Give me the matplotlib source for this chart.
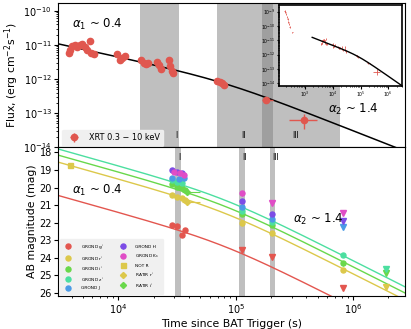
import numpy as np
import matplotlib
matplotlib.use('Agg')
import matplotlib.pyplot as plt

# ---------------- X-ray data (XRT 0.3-10 keV) ----------------
xrt_t = [3780, 3900, 4040, 4250, 4450, 4660, 4910, 5170, 5420, 5700, 5780, 6160,
         9750, 10400, 10750, 11470,
         15700, 16400, 17200, 17900,
         21300, 22000, 23200,
         27200, 27700, 28600, 29000,
         69200, 72800, 76300, 79800,
         180700, 385000]
xrt_f = [5.9e-12, 6.9e-12, 9.3e-12, 1.0e-11, 8.7e-12, 1.0e-11, 1.05e-11, 8.7e-12, 6.9e-12, 1.32e-11, 5.9e-12, 5.5e-12,
         5.5e-12, 3.5e-12, 4.2e-12, 4.7e-12,
         3.5e-12, 2.95e-12, 2.8e-12, 2.95e-12,
         3.2e-12, 2.6e-12, 2.0e-12,
         3.5e-12, 2.35e-12, 1.75e-12, 1.5e-12,
         8.7e-13, 8.1e-13, 7.8e-13, 6.6e-13,
         2.46e-13, 6.3e-14]
xrt_t_lo = [150] * 31 + [13700, 99000]
xrt_t_hi = [150] * 31 + [29300, 106000]
xrt_f_rel = [0.15] * 31 + [0.15, 0.45]

# early (steep decay) points shown only in the inset
early_t = [185, 195, 205, 220, 235, 250, 265, 280, 350]
early_f = [1.2e-9, 9.0e-10, 6.5e-10, 4.5e-10, 3.0e-10, 2.0e-10, 1.4e-10, 9.0e-11, 3.5e-11]

# smoothly broken power-law model parameters
xr_norm = 10 ** -12.03
t_break = 10 ** 4.9
alpha1 = 0.75
alpha2 = 1.35
smooth = 3.0
model_tmin, model_tmax = 1800, 3.0e6

# optical model normalisations (mag at break)
opt_m0 = {'g': 23.1, 'r': 21.2, 'i': 20.8, 'z': 20.45}

# ---------------- Optical/NIR data ----------------
g_t = [28650, 31600, 34850, 37150]
g_m = [22.14, 22.18, 22.71, 22.43]
g_ul_t = [114300, 205600, 826000]
g_ul_m = [23.57, 23.95, 25.75]

r_t = [28650, 31600, 34850, 37150, 114300, 205600, 826000]
r_m = [20.43, 20.53, 20.62, 20.72, 22.05, 22.62, 24.70]
r_ul_t = [1.9e6]
r_ul_m = [25.66]

i_t = [28650, 31600, 34850, 37150, 114300, 205600, 826000]
i_m = [19.77, 19.96, 20.05, 20.15, 21.52, 22.14, 24.33]
i_ul_t = [1.9e6]
i_ul_m = [24.86]

z_t = [28650, 31600, 34850, 114300, 205600, 826000]
z_m = [19.58, 19.67, 19.73, 21.33, 21.98, 23.85]
z_ul_t = [1.9e6]
z_ul_m = [24.67]

J_t = [28650, 33000, 36000, 114300, 205600]
J_m = [19.48, 19.54, 19.48, 21.13, 21.82]
J_ul_t = [826000]
J_ul_m = [22.27]

H_t = [28650, 31600, 34850, 114300, 205600]
H_m = [19.00, 19.10, 19.16, 20.76, 21.52]
H_ul_t = [826000]
H_ul_m = [21.90]

K_t = [29500, 33600, 36000, 114300]
K_m = [19.10, 19.16, 19.29, 20.34]
K_ul_t = [205600, 826000]
K_ul_m = [20.90, 21.48]

not_t = [3900]
not_m = [18.72]

ratir_r_t = [38500]
ratir_r_m = [20.81]
ratir_i_t = [38500]
ratir_i_m = [20.24]
ratir_t_lo = [3500]
ratir_t_hi = [11500]

# shaded epochs
xr_bands = [(15400, 33000), (69200, 209000), (168000, 777000)]
opt_bands = [(30300, 34000), (107000, 121000), (197000, 217000)]

col = {'g': '#e3564f', 'r': '#dcc84a', 'i': '#69d84b', 'z': '#4cdfa0',
       'J': '#4b9be6', 'H': '#7c4ce6', 'K': '#e04dc6'}
xr_col = '#e0574f'


def sbpl(t):
    x = np.asarray(t) / t_break
    return (x ** (alpha1 * smooth) + x ** (alpha2 * smooth)) ** (-1.0 / smooth)


plt.rcParams['font.family'] = 'DejaVu Sans'
plt.rcParams['xtick.major.size'] = 2.6
plt.rcParams['ytick.major.size'] = 2.6
plt.rcParams['xtick.minor.size'] = 1.5
plt.rcParams['ytick.minor.size'] = 1.5
plt.rcParams['xtick.major.pad'] = 1.8
plt.rcParams['ytick.major.pad'] = 1.8
plt.rcParams['xtick.minor.pad'] = 1.8
plt.rcParams['ytick.minor.pad'] = 1.8

fig = plt.figure(figsize=(4.11, 3.29), dpi=100)
gs = fig.add_gridspec(2, 1, left=0.141, right=0.985, top=0.99, bottom=0.1,
                      hspace=0, height_ratios=[144, 149])
ax1 = fig.add_subplot(gs[0])
ax2 = fig.add_subplot(gs[1], sharex=ax1)

tgrid = np.logspace(np.log10(model_tmin), np.log10(model_tmax), 400)

# ---------- top panel ----------
for a, b in xr_bands:
    ax1.axvspan(a, b, color='gray', alpha=0.5, lw=0, zorder=0)
ax1.plot(tgrid, xr_norm * sbpl(tgrid), color='black', lw=1.1, zorder=2)
xf = np.array(xrt_f)
ax1.errorbar(xrt_t, xrt_f, xerr=[xrt_t_lo, xrt_t_hi],
             yerr=xf * np.array(xrt_f_rel), fmt='o', color=xr_col, ms=4.5,
             elinewidth=1, capsize=0, zorder=3, label='XRT 0.3 − 10 keV')
ax1.set_xscale('log')
ax1.set_yscale('log')
ax1.set_xlim(3050, 2.77e6)
ax1.set_ylim(1e-14, 1.65e-10)
ax1.set_ylabel('Flux, (erg cm$^{-2}$s$^{-1}$)', fontsize=7.8, labelpad=2)
ax1.tick_params(labelsize=7, labelbottom=False)
ax1.text(4050, 4.0e-11, r'$\alpha_1$ ~ 0.4', fontsize=8.5, va='center')
ax1.text(612000, 1.26e-13, r'$\alpha_2$ ~ 1.4', fontsize=8.5, va='center')
for x, s in [(31200, 'I'), (116000, 'II'), (327000, 'III')]:
    ax1.text(x, 2.2e-14, s, fontsize=5.5, ha='center', va='center')
leg = ax1.legend(loc='lower left', fontsize=5.9, frameon=True, borderpad=0.45,
                 handletextpad=0.8, bbox_to_anchor=(0.0, -0.02))
leg.get_frame().set_facecolor('#f0f0f0')
leg.get_frame().set_edgecolor('#f0f0f0')
leg.get_frame().set_alpha(0.95)

# inset
axin = fig.add_axes([0.68, 0.739, 0.299, 0.245])
axin.errorbar(early_t, early_f, yerr=np.array(early_f) * 0.15, xerr=np.array(early_t) * 0.03,
              fmt='none', color=xr_col, elinewidth=0.6)
axin.errorbar(xrt_t, xrt_f, xerr=[xrt_t_lo, xrt_t_hi], yerr=xf * np.array(xrt_f_rel),
              fmt='none', color=xr_col, elinewidth=0.6)
axin.plot(tgrid, xr_norm * sbpl(tgrid), color='black', lw=1.0)
axin.set_xscale('log')
axin.set_yscale('log')
axin.set_xlim(119, 3.2e6)
axin.set_ylim(6.5e-15, 2.8e-9)
axin.tick_params(labelsize=3.3, length=1.8, pad=1)
axin.tick_params(which='minor', length=1)
for s in axin.spines.values():
    s.set_linewidth(1.2)

# ---------- bottom panel ----------
for a, b in opt_bands:
    ax2.axvspan(a, b, color='gray', alpha=0.5, lw=0, zorder=0)
for band in ['g', 'r', 'i', 'z']:
    ax2.plot(tgrid, opt_m0[band] - 2.5 * np.log10(sbpl(tgrid)), color=col[band], lw=1.0, zorder=1)

ms = 3.6
series = [('g', g_t, g_m, g_ul_t, g_ul_m, "GROND g$'$"),
          ('r', r_t, r_m, r_ul_t, r_ul_m, "GROND r$'$"),
          ('i', i_t, i_m, i_ul_t, i_ul_m, "GROND i$'$"),
          ('z', z_t, z_m, z_ul_t, z_ul_m, "GROND z$'$"),
          ('J', J_t, J_m, J_ul_t, J_ul_m, 'GROND J'),
          ('H', H_t, H_m, H_ul_t, H_ul_m, 'GROND H'),
          ('K', K_t, K_m, K_ul_t, K_ul_m, 'GROND K$_s$')]
handles = []
for band, t, m, ut, um, lab in series:
    h = ax2.errorbar(t, m, yerr=0.12, xerr=np.array(t) * 0.02, fmt='o', color=col[band],
                     ms=ms, elinewidth=0.8, capsize=0, zorder=3, label=lab)
    ax2.plot(ut, um, 'v', color=col[band], ms=ms + 0.5, zorder=3)
    handles.append(h)
h = ax2.errorbar(not_t, not_m, yerr=0.08, fmt='s', color=col['r'], ms=ms, elinewidth=0.8,
                 capsize=0, zorder=3, label='NOT R')
handles.append(h)
h = ax2.errorbar(ratir_r_t, ratir_r_m, xerr=[ratir_t_lo, ratir_t_hi], yerr=0.15, fmt='D',
                 color=col['r'], ms=ms - 0.5, elinewidth=0.8, capsize=0, zorder=3, label="RATIR r$'$")
handles.append(h)
h = ax2.errorbar(ratir_i_t, ratir_i_m, xerr=[ratir_t_lo, ratir_t_hi], yerr=0.15, fmt='D',
                 color=col['i'], ms=ms - 0.5, elinewidth=0.8, capsize=0, zorder=3, label="RATIR i$'$")
handles.append(h)

ax2.set_ylim(26.19, 17.7)
ax2.set_yticks(range(18, 27))
ax2.set_ylabel('AB magnitude (mag)', fontsize=7.8, labelpad=2)
ax2.set_xlabel('Time since BAT Trigger (s)', fontsize=7.8, labelpad=2)
ax2.tick_params(labelsize=7)
ax2.text(4000, 20.15, r'$\alpha_1$ ~ 0.4', fontsize=8.5, va='center')
ax2.text(307000, 21.8, r'$\alpha_2$ ~ 1.4', fontsize=8.5, va='center')
for x, s in [(33000, 'I'), (118000, 'II'), (221000, 'III')]:
    ax2.text(x, 18.27, s, fontsize=5.5, ha='center', va='center')
leg2 = ax2.legend(handles=handles, loc='lower left', ncol=2, fontsize=3.2, frameon=True,
                  borderpad=0.8, handletextpad=1.8, columnspacing=3.2, labelspacing=0.8,
                  handlelength=2.0, bbox_to_anchor=(0.0, 0.0))
leg2.get_frame().set_facecolor('#f0f0f0')
leg2.get_frame().set_edgecolor('#f0f0f0')
leg2.get_frame().set_alpha(0.95)

fig.savefig('out.png', dpi=100)
